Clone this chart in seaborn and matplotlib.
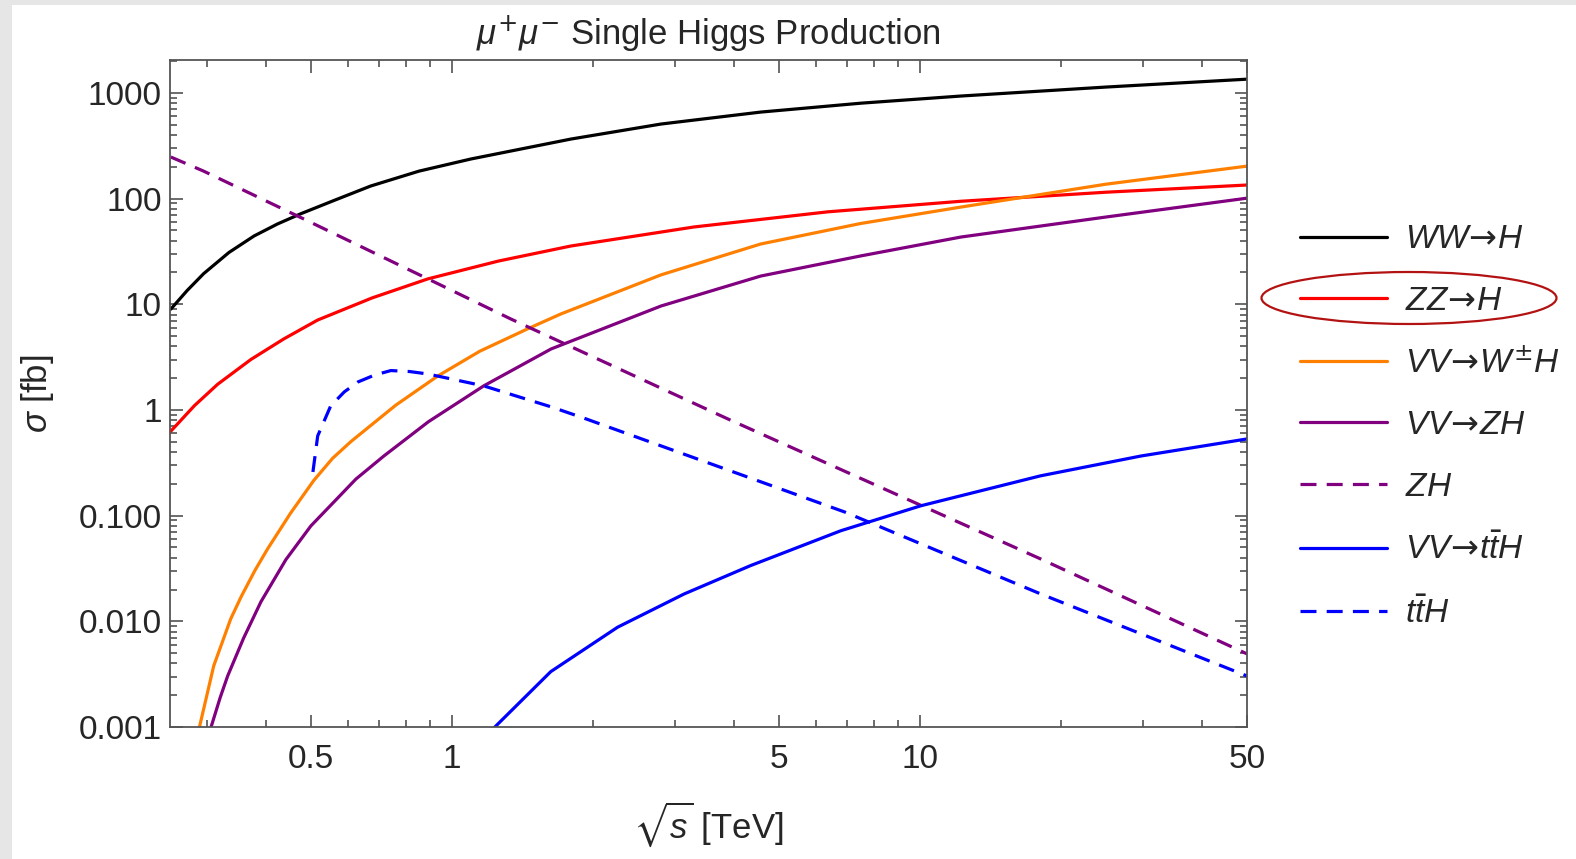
import matplotlib
matplotlib.use("Agg")
import matplotlib.pyplot as plt
import seaborn as sns
import pandas as pd
from matplotlib.patches import Ellipse, Rectangle
from matplotlib.ticker import FixedLocator, NullFormatter

# ---- data (sqrt(s) in TeV, sigma in fb) ----
ww_x = [0.251, 0.272, 0.295, 0.334, 0.378, 0.424, 0.476, 0.562, 0.671, 0.851, 1.098,
        1.796, 2.80, 4.57, 7.48, 12.24, 25, 50]
ww_y = [9.0, 13.5, 19.5, 30.9, 44.3, 57.5, 72, 96.6, 131.6, 182, 237,
        366, 508, 659, 800, 935, 1137, 1350]

zz_x = [0.251, 0.282, 0.316, 0.372, 0.4375, 0.517, 0.676, 0.889, 1.26, 1.796, 3.29, 6.36,
        12.24, 25, 50]
zz_y = [0.63, 1.1, 1.75, 3.0, 4.7, 7.1, 11.5, 17.4, 25.7, 35.6, 53.9, 75,
        94.4, 115, 134.5]

wh_x = [0.289, 0.310, 0.337, 0.355, 0.380, 0.404, 0.452, 0.507, 0.556, 0.608, 0.759, 0.934,
        1.148, 1.45, 1.71, 2.80, 4.57, 7.48, 12.24, 25, 50]
wh_y = [0.001, 0.00379, 0.01054, 0.0172, 0.0305, 0.0484, 0.105, 0.215, 0.348, 0.5, 1.11, 2.1,
        3.6, 5.84, 8.1, 19, 37.2, 58.2, 83.2, 137, 203]

vzh_x = [0.306, 0.32, 0.332, 0.359, 0.391, 0.442, 0.500, 0.624, 0.716, 0.891, 1.17, 1.63,
         2.80, 4.57, 7.48, 12.24, 25, 50]
vzh_y = [0.001, 0.0019, 0.00304, 0.00692, 0.0153, 0.0383, 0.080, 0.222, 0.367, 0.773, 1.69, 3.78,
         9.64, 18.5, 28.7, 43.3, 67, 101]

zh_x = [0.251, 0.295, 0.483, 0.889, 1.337, 3.89, 7.12, 18.1, 50]
zh_y = [247.6, 182, 64.1, 17.4, 7.26, 0.822, 0.248, 0.039, 0.00492]

vtth_x = [1.236, 1.627, 2.26, 3.136, 4.35, 6.78, 10.05, 18.1, 29.7, 50]
vtth_y = [0.001, 0.00334, 0.00879, 0.01815, 0.0337, 0.072, 0.124, 0.238, 0.367, 0.532]

tth_x = [0.505, 0.517, 0.551, 0.589, 0.63, 0.684, 0.741, 0.813, 0.889, 1.17, 1.63, 1.91,
         6.92, 18.1, 50]
tth_y = [0.259, 0.568, 1.09, 1.48, 1.84, 2.14, 2.36, 2.31, 2.19, 1.69, 1.07, 0.841,
         0.108, 0.0182, 0.00304]

labels = [r"$WW\!\rightarrow\!H$", r"$ZZ\!\rightarrow\!H$", r"$VV\!\rightarrow\!W^{\pm}H$",
          r"$VV\!\rightarrow\!ZH$", r"$ZH$", r"$VV\!\rightarrow\!t\bar{t}H$", r"$t\bar{t}H$"]
colors = ["black", "#ff0000", "#ff8000", "#800080", "#800080", "#0000ff", "#0000ff"]
dashed = [False, False, False, False, True, False, True]
series = [(ww_x, ww_y), (zz_x, zz_y), (wh_x, wh_y), (vzh_x, vzh_y),
          (zh_x, zh_y), (vtth_x, vtth_y), (tth_x, tth_y)]

sns.set_style("ticks")
plt.rcParams["font.family"] = ["Liberation Sans", "DejaVu Sans"]
plt.rcParams["mathtext.fontset"] = "custom"
# symbols (arrow, +, -, sqrt) come from rm, letters from italic Liberation Sans
plt.rcParams["mathtext.rm"] = "DejaVu Sans"
plt.rcParams["mathtext.it"] = "Liberation Sans:italic"
plt.rcParams["mathtext.bf"] = "Liberation Sans:bold"
plt.rcParams["mathtext.fallback"] = "stixsans"

fig = plt.figure(figsize=(15.76, 8.59), dpi=100, facecolor="#e6e6e6")
# white card on the grey page
fig.patches.append(Rectangle((12 / 1576, 0), 1, 1 - 5 / 859, transform=fig.transFigure,
                             facecolor="white", edgecolor="none", zorder=-10))
ax = fig.add_axes([170 / 1576, 1 - 727 / 859, 1077 / 1576, 667 / 859])
ax.set_facecolor("white")

for (xs, ys), lab, c, d in zip(series, labels, colors, dashed):
    df = pd.DataFrame({"x": xs, "y": ys})
    sns.lineplot(data=df, x="x", y="y", ax=ax, color=c, lw=2.3, label=lab,
                 estimator=None, linestyle=(0, (5, 3.2)) if d else "-")

ax.set_xscale("log")
ax.set_yscale("log")
ax.set_xlim(0.25, 50)
ax.set_ylim(0.001, 2050)

ax.xaxis.set_major_locator(FixedLocator([0.5, 1, 5, 10, 50]))
ax.set_xticklabels(["0.5", "1", "5", "10", "50"])
minx = [0.3, 0.4, 0.6, 0.7, 0.8, 0.9, 2, 3, 4, 6, 7, 8, 9, 20, 30, 40]
ax.xaxis.set_minor_locator(FixedLocator(minx))
ax.xaxis.set_minor_formatter(NullFormatter())
ax.set_yticks([0.001, 0.01, 0.1, 1, 10, 100, 1000])
ax.set_yticklabels(["0.001", "0.010", "0.100", "1", "10", "100", "1000"])

ax.tick_params(which="both", direction="in", top=True, right=True, labelsize=24,
               color="#444444", width=1.1)
ax.tick_params(which="major", length=9)
ax.tick_params(which="minor", length=5)
ax.tick_params(axis="x", pad=12)
ax.tick_params(axis="y", pad=6)
for s in ax.spines.values():
    s.set_color("#555555")
    s.set_linewidth(1.3)

ax.set_title(r"$\mu^{+}\mu^{-}$ Single Higgs Production", fontsize=25, pad=11)
ax.set_xlabel(r"$\sqrt{s}$ [TeV]", fontsize=25, labelpad=18)
ax.set_ylabel(r"$\sigma$ [fb]", fontsize=25, labelpad=16)

ax.get_legend().remove()
handles, labs = ax.get_legend_handles_labels()
fig.legend(handles, labs, loc="center left", bbox_to_anchor=(1300 / 1576, 0.503), frameon=False,
           prop={"size": 24}, handlelength=2.6, handletextpad=0.55,
           labelspacing=0.92, borderaxespad=0, borderpad=0)

fig.patches.append(Ellipse((1409 / 1576, 1 - 298 / 859), 295 / 1576, 52 / 859,
                           transform=fig.transFigure, fill=False, edgecolor="#b31212", lw=1.6))

fig.savefig("out.png", dpi=100, facecolor=fig.get_facecolor())
